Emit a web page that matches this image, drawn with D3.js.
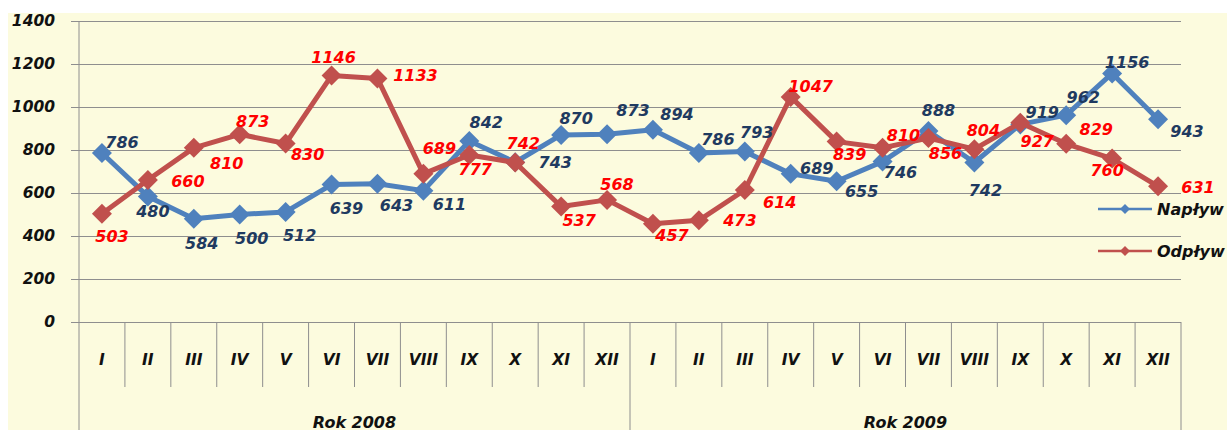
<!DOCTYPE html>
<html>
<head>
<meta charset="utf-8">
<script src="https://cdn.jsdelivr.net/npm/d3@7"></script>
<style>
  html, body { margin: 0; padding: 0; background: #ffffff; }
  svg { display: block; }
  text { font-family: "DejaVu Sans", Verdana, sans-serif; font-weight: bold; font-style: italic; }
</style>
</head>
<body>
<svg id="chart" width="1227" height="430"></svg>
<script>
// ---------- DATA ----------
const months = ["I","II","III","IV","V","VI","VII","VIII","IX","X","XI","XII"];
const years = ["Rok 2008", "Rok 2009"];
const yTicks = [0, 200, 400, 600, 800, 1000, 1200, 1400];
const seriesNames = ["Napływ", "Odpływ"];
// values as plotted (marker positions)
const naplywValues = [786, 584, 480, 500, 512, 639, 643, 611, 842, 743, 870, 873,
                      894, 786, 793, 689, 655, 746, 888, 742, 919, 962, 1156, 943];
// data labels as printed on the chart
const naplywLabels = [786, 480, 584, 500, 512, 639, 643, 611, 842, 743, 870, 873,
                      894, 786, 793, 689, 655, 746, 888, 742, 919, 962, 1156, 943];
const odplywValues = [503, 660, 810, 873, 830, 1146, 1133, 689, 777, 742, 537, 568,
                      457, 473, 614, 1047, 839, 810, 856, 804, 927, 829, 760, 631];
const odplywLabels = odplywValues;

// ---------- LAYOUT ----------
const W = 1227, H = 430;
const plot = { left: 79, right: 1181, top: 21, bottom: 322 };
const colors = { blue: "#4F81BD", red: "#C0504D", blueText: "#1F3A60", redText: "#FF0000",
                 bg: "#FCFBDE", grid: "#8E8E8E" };
// label offsets (dx, dy) from each marker
const naplywOff = [[20,-11],[5,15],[8,25],[12,24],[14,24],[15,24],[19,22],[26,14],[17,-18],[40,0],[15,-16],[26,-24],
                   [24,-15],[19,-14],[12,-19],[26,-5],[25,10],[18,11],[10,-21],[11,28],[22,-12],[17,-18],[15,-11],[29,12]];
const odplywOff = [[10,23],[40,1],[33,16],[13,-13],[22,11],[2,-18],[38,-3],[16,-25],[6,15],[8,-19],[18,14],[10,-15],
                   [19,12],[41,0],[35,13],[20,-10],[13,13],[21,-12],[17,16],[9,-19],[17,19],[30,-14],[-5,12],[40,1]];

const svg = d3.select("#chart");

// background
svg.append("rect").attr("x", 8).attr("y", 13).attr("width", W - 8).attr("height", H - 13)
  .attr("fill", colors.bg);

const cats = d3.range(24).map(i => i + "");
const x = d3.scaleBand().domain(cats).range([plot.left, plot.right]).padding(0);
const y = d3.scaleLinear().domain([0, 1400]).range([plot.bottom, plot.top]);
const cx = i => x(i + "") + x.bandwidth() / 2;

// gridlines + y axis
const yAxis = d3.axisLeft(y).tickValues(yTicks).tickSize(8).tickPadding(16)
  .tickFormat(d3.format("d"));
const gy = svg.append("g").attr("transform", `translate(${plot.left},0)`).call(yAxis);
gy.select(".domain").remove();
gy.selectAll(".tick line").attr("stroke", colors.grid).attr("x2", -8);
gy.selectAll(".tick").append("line")
  .attr("x1", 0).attr("x2", plot.right - plot.left)
  .attr("stroke", colors.grid).attr("stroke-width", 1);
gy.selectAll(".tick text").attr("fill", "#111").style("font-size", "15.5px")
  .style("font-family", '"DejaVu Sans", sans-serif').style("font-weight", "bold").style("font-style", "italic");

// vertical axis line
svg.append("line").attr("x1", plot.left).attr("x2", plot.left)
  .attr("y1", plot.top).attr("y2", H).attr("stroke", colors.grid);

// category separators
const sepG = svg.append("g");
d3.range(1, 24).forEach(i => {
  const xx = x(i + "");
  const full = (i % 12 === 0);
  sepG.append("line").attr("x1", xx).attr("x2", xx)
    .attr("y1", plot.bottom).attr("y2", full ? H : 387)
    .attr("stroke", colors.grid);
});
sepG.append("line").attr("x1", plot.right).attr("x2", plot.right)
  .attr("y1", plot.bottom).attr("y2", H).attr("stroke", colors.grid);

// month labels
svg.append("g").selectAll("text").data(d3.range(24)).join("text")
  .attr("x", i => cx(i)).attr("y", 360)
  .attr("text-anchor", "middle").attr("dominant-baseline", "central")
  .attr("fill", "#111").style("font-size", "15.5px")
  .text(i => months[i % 12]);

// year labels
svg.append("g").selectAll("text").data(years).join("text")
  .attr("x", (d, k) => (x((k * 12) + "") + x((k * 12 + 11) + "") + x.bandwidth()) / 2)
  .attr("y", 428)
  .attr("text-anchor", "middle").attr("fill", "#111").style("font-size", "16px")
  .text(d => d);

// series
const series = [
  { vals: naplywValues, labels: naplywLabels, off: naplywOff, color: colors.blue, text: colors.blueText },
  { vals: odplywValues, labels: odplywLabels, off: odplywOff, color: colors.red, text: colors.redText }
];
const line = d3.line().x((d, i) => cx(i)).y(d => y(d));

series.forEach(s => {
  const g = svg.append("g");
  g.append("path").datum(s.vals).attr("d", line)
    .attr("fill", "none").attr("stroke", s.color).attr("stroke-width", 5)
    .attr("stroke-linejoin", "round");
  g.selectAll("path.m").data(s.vals).join("path").attr("class", "m")
    .attr("transform", (d, i) => `translate(${cx(i)},${y(d)}) rotate(45)`)
    .attr("d", d3.symbol().type(d3.symbolSquare).size(200))
    .attr("fill", s.color);
});
series.forEach(s => {
  svg.append("g").selectAll("text").data(s.vals).join("text")
    .attr("x", (d, i) => cx(i) + s.off[i][0])
    .attr("y", (d, i) => y(d) + s.off[i][1])
    .attr("text-anchor", "middle").attr("dominant-baseline", "central")
    .attr("fill", s.text).style("font-size", "16px")
    .text((d, i) => s.labels[i]);
});

// legend
const legY = [209, 251];
const leg = svg.append("g");
series.forEach((s, k) => {
  leg.append("line").attr("x1", 1098).attr("x2", 1152)
    .attr("y1", legY[k]).attr("y2", legY[k])
    .attr("stroke", s.color).attr("stroke-width", 2.5);
  leg.append("path").attr("transform", `translate(1125,${legY[k]}) rotate(45)`)
    .attr("d", d3.symbol().type(d3.symbolSquare).size(50)).attr("fill", s.color);
  leg.append("text").attr("x", 1157).attr("y", legY[k])
    .attr("dominant-baseline", "central").attr("fill", "#111").style("font-size", "16px")
    .text(seriesNames[k]);
});
</script>
</body>
</html>
